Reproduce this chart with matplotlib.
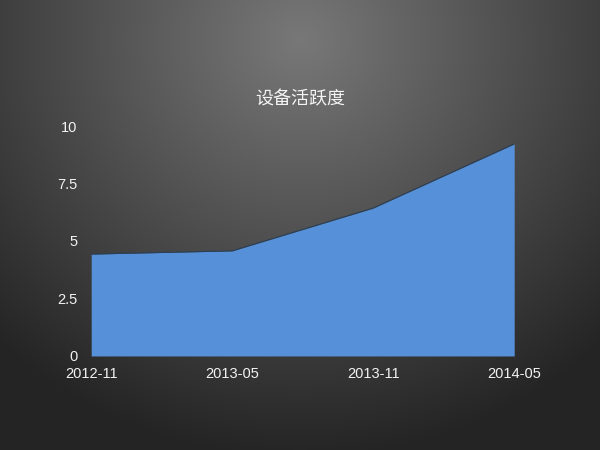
import numpy as np
import matplotlib
matplotlib.use("Agg")
import matplotlib.pyplot as plt

plt.rcParams['font.family'] = ['Liberation Sans', 'Noto Sans CJK SC', 'DejaVu Sans']

categories = ["2012-11", "2013-05", "2013-11", "2014-05"]
values = [4.43, 4.57, 6.43, 9.22]
yticks = [0, 2.5, 5, 7.5, 10]
yticklabels = ["0", "2.5", "5", "7.5", "10"]
title = "设备活跃度"

fig = plt.figure(figsize=(6, 4.5), dpi=100)

# radial gradient background
bg = fig.add_axes([0, 0, 1, 1], zorder=-10)
W, H = 600, 450
yy, xx = np.mgrid[0:H, 0:W]
d = np.sqrt((xx - 300) ** 2 + ((yy - 40) * 1.05) ** 2)
t = np.clip(d / 440.0, 0, 1)
v = 120 - (120 - 36) * t ** 1.0
img = np.dstack([v, v, v]) / 255.0
bg.imshow(img, aspect='auto', extent=[0, 1, 0, 1], origin='upper')
bg.axis('off')

ax = fig.add_axes([0.152, 0.209, 0.705, 0.511])
ax.patch.set_alpha(0)
x = np.arange(len(categories))
ax.fill_between(x, 0, values, color='#5590d9', linewidth=0, zorder=2)
ax.plot(x, values, color='#2b3f55', linewidth=0.8, zorder=3)
ax.set_xlim(0, len(categories) - 1)
ax.set_ylim(0, 10)
ax.set_xticks(x)
ax.set_xticklabels(categories)
ax.set_yticks(yticks)
ax.set_yticklabels(yticklabels)
for s in ax.spines.values():
    s.set_visible(False)
ax.tick_params(length=0, colors='#f2f2f2', labelsize=10.5)
ax.tick_params(axis='y', pad=10)
ax.tick_params(axis='x', pad=8)
for lbl in ax.get_xticklabels() + ax.get_yticklabels():
    lbl.set_color('#f2f2f2')

fig.text(0.5, 0.778, title, ha='center', va='center', color='#f4f4f4', fontsize=13,
         family=['Noto Sans CJK SC', 'DejaVu Sans'])

fig.savefig('out.png', dpi=100)
